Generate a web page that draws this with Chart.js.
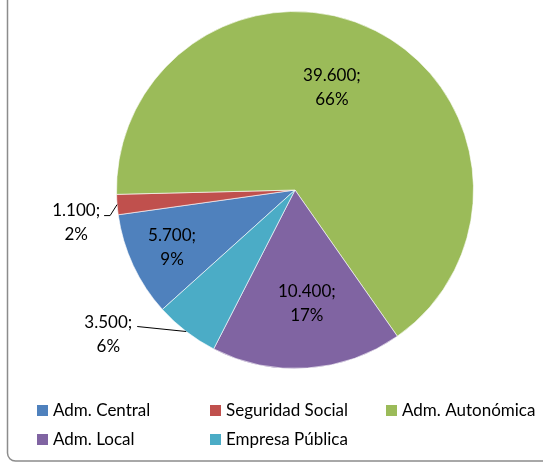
<!DOCTYPE html>
<html>
<head>
<meta charset="utf-8">
<script src="https://cdn.jsdelivr.net/npm/chart.js@4"></script>
<style>
  html, body { margin: 0; padding: 0; background: #fff; }
  #wrap { width: 543px; height: 462px; }
</style>
</head>
<body>
<div id="wrap"><canvas id="pieChart" width="543" height="462"></canvas></div>
<script>
// Data
var categories = ["Adm. Central", "Seguridad Social", "Adm. Autonómica", "Adm. Local", "Empresa Pública"];
var amounts = [5700, 1100, 39600, 10400, 3500];
var colors = ["#4F81BD", "#C0504D", "#9BBB59", "#8064A2", "#4BACC6"];

var LABEL_FONT = "17px Lato";
var LEGEND_FONT = "17px Lato";

// where each data label sits (inside: fraction of radius + angle shift in degrees; outside: leader offsets)
var labelPlacement = [
  { r: 0.76, shift: 0 },
  { leader: [[-7, 11], [-13, 11]], gap: 4, dy: -5 },
  { r: 0.61, shift: -7 },
  { r: 0.64, shift: -2 },
  { leader: [[-49, -5]], gap: 5, dy: -4 }
];

function formatNumber(v) {
  return v.toString().replace(/\B(?=(\d{3})+(?!\d))/g, ".");
}

var labelsPlugin = {
  id: "sliceLabels",
  afterDatasetsDraw: function(chart) {
    var ctx = chart.ctx;
    var meta = chart.getDatasetMeta(0);
    var total = amounts.reduce(function(a, b) { return a + b; }, 0);
    ctx.save();
    ctx.font = LABEL_FONT;
    ctx.fillStyle = "#000";
    ctx.textBaseline = "middle";
    ctx.textAlign = "center";
    meta.data.forEach(function(arc, i) {
      var p = arc.getProps(["x", "y", "startAngle", "endAngle", "outerRadius"], true);
      var mid = (p.startAngle + p.endAngle) / 2;
      var lines = [formatNumber(amounts[i]) + ";", Math.round(amounts[i] / total * 100) + "%"];
      var place = labelPlacement[i];
      if (place.leader) {
        var ex = p.x + Math.cos(mid) * p.outerRadius;
        var ey = p.y + Math.sin(mid) * p.outerRadius;
        ctx.strokeStyle = "#000";
        ctx.lineWidth = 1;
        ctx.beginPath();
        ctx.moveTo(ex, ey);
        var lx = ex, ly = ey;
        place.leader.forEach(function(o) {
          lx = ex + o[0]; ly = ey + o[1];
          ctx.lineTo(lx, ly);
        });
        ctx.stroke();
        var w = Math.max(ctx.measureText(lines[0]).width, ctx.measureText(lines[1]).width);
        var cx = lx - place.gap - w / 2;
        ctx.fillText(lines[0], cx, ly + place.dy);
        ctx.fillText(lines[1], cx, ly + place.dy + 24);
      } else {
        var a = mid + place.shift * Math.PI / 180;
        var tx = p.x + Math.cos(a) * p.outerRadius * place.r;
        var ty = p.y + Math.sin(a) * p.outerRadius * place.r;
        ctx.fillText(lines[0], tx, ty - 12);
        ctx.fillText(lines[1], tx, ty + 12);
      }
    });
    ctx.restore();
  },
  afterDraw: function(chart) {
    var ctx = chart.ctx;
    ctx.save();
    // legend in two rows, three columns
    var colX = [37, 210, 386];
    var rowY = [405, 434];
    ctx.font = LEGEND_FONT;
    ctx.textBaseline = "middle";
    ctx.textAlign = "left";
    categories.forEach(function(name, i) {
      var x = colX[i % 3];
      var y = rowY[Math.floor(i / 3)];
      ctx.fillStyle = colors[i];
      ctx.fillRect(x, y, 11, 11);
      ctx.fillStyle = "#000";
      ctx.fillText(name, x + 16, y + 5.5);
    });
    // chart frame (only the left and bottom-left corner are in view)
    ctx.strokeStyle = "#8c8c8c";
    ctx.lineWidth = 1.5;
    ctx.beginPath();
    ctx.roundRect(7.5, -20, 600, 481, 8);
    ctx.stroke();
    ctx.restore();
  }
};

window.onload = function() {
  var ctx = document.getElementById("pieChart").getContext("2d");
  new Chart(ctx, {
    type: "pie",
    data: {
      labels: categories,
      datasets: [{
        data: amounts,
        backgroundColor: colors,
        borderColor: "rgba(255,255,255,0.6)",
        borderWidth: 1
      }]
    },
    options: {
      responsive: false,
      animation: false,
      rotation: 228,
      layout: { padding: { top: 11, bottom: 93, left: 116, right: 69 } },
      plugins: {
        legend: { display: false },
        tooltip: { enabled: false }
      }
    },
    plugins: [labelsPlugin]
  });
};
</script>
</body>
</html>
